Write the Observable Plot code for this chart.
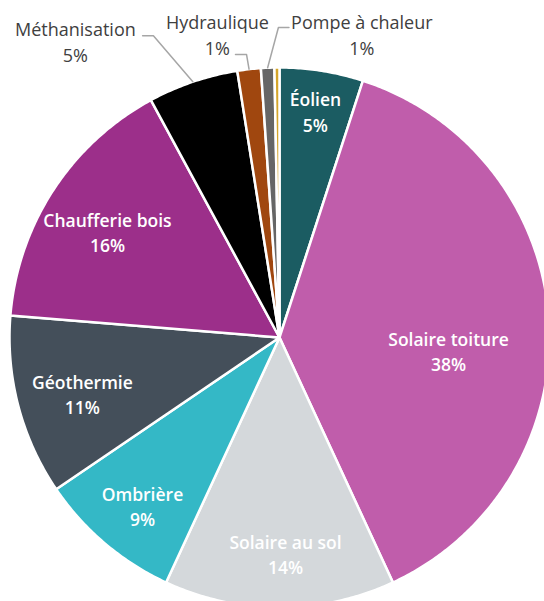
<!DOCTYPE html>
<html><head><meta charset="utf-8">
<script src="https://cdn.jsdelivr.net/npm/d3@7"></script>
<script src="https://cdn.jsdelivr.net/npm/@observablehq/plot@0.6"></script>
<style>body{margin:0;background:#fff;} svg{display:block;}</style>
</head><body><div id="chart"></div>
<script>
// ---- data (shares in %, clockwise from 12 o'clock) ----
const categories = ["Éolien","Solaire toiture","Solaire au sol","Ombrière","Géothermie","Chaufferie bois","Méthanisation","Hydraulique","Pompe à chaleur","Autre"];
const shares = [5.0, 38.1, 13.8, 8.6, 10.8, 15.8, 5.4, 1.4, 0.8, 0.3];
const colors = ["#1b5c62","#c05dab","#d4d8db","#34b8c6","#444f5a","#9c2f8a","#000000","#a0470f","#666666","#d4a52a"];
const insideLabels = ["Éolien","Solaire toiture","Solaire au sol","Ombrière","Géothermie","Chaufferie bois"];
const outsideLabels = ["Méthanisation","Hydraulique","Pompe à chaleur"];

// ---- layout (not data) ----
const W = 544, H = 601, CX = 279, CY = 337, R = 270;
// inside label placement: [angle (deg, clockwise from north), radius fraction]
const insideAt = {
  "Éolien": [9, 0.85], "Solaire toiture": [94.4, 0.628], "Solaire au sol": [178.4, 0.80],
  "Ombrière": [219.2, 0.803], "Géothermie": [254.1, 0.759], "Chaufferie bois": [301.6, 0.748]
};
// outside labels: text block centre, leader elbow and end (unit coordinates)
const outsideAt = {
  "Méthanisation": {tx: -0.756, ty: 1.100, ex: -0.467, ey: 1.118, fx: -0.507, fy: 1.118},
  "Hydraulique": {tx: -0.230, ty: 1.126, ex: -0.122, ey: 1.048, fx: -0.163, fy: 1.048},
  "Pompe à chaleur": {tx: 0.305, ty: 1.126, ex: -0.004, ey: 1.148, fx: 0.035, fy: 1.148}
};

const total = d3.sum(shares);
let acc = 0;
const slices = categories.map((name, i) => {
  const a0 = acc / total * 360; acc += shares[i];
  const a1 = acc / total * 360;
  return {name, value: shares[i], a0, a1, mid: (a0 + a1) / 2};
});
const rad = a => a * Math.PI / 180;
const polar = (a, r) => ({x: Math.sin(rad(a)) * r, y: Math.cos(rad(a)) * r});

const pts = slices.flatMap(s => {
  const n = Math.max(2, Math.ceil((s.a1 - s.a0) / 0.5));
  const arc = d3.range(n + 1).map(k => ({name: s.name, ...polar(s.a0 + (s.a1 - s.a0) * k / n, 1)}));
  return [{name: s.name, x: 0, y: 0}, ...arc];
});

const pct = s => `${Math.round(s.value)}%`;
const inLab = slices.filter(s => insideLabels.includes(s.name)).map(s => {
  const [a, r] = insideAt[s.name];
  return {...polar(a, r), text: `${s.name}\n${pct(s)}`};
});
const outLab = slices.filter(s => outsideLabels.includes(s.name)).map(s => {
  const L = outsideAt[s.name];
  return {x: L.tx, y: L.ty, text: `${s.name}\n${pct(s)}`};
});
const leaders = slices.filter(s => outsideLabels.includes(s.name)).flatMap(s => {
  const L = outsideAt[s.name];
  const p = polar(s.mid, 1.0);
  return [{name: s.name, ...p}, {name: s.name, x: L.ex, y: L.ey}, {name: s.name, x: L.fx, y: L.fy}];
});

const chart = Plot.plot({
  width: W, height: H, margin: 0,
  x: {domain: [-CX / R, (W - CX) / R], axis: null},
  y: {domain: [-(H - CY) / R, CY / R], axis: null},
  color: {domain: categories, range: colors},
  style: {fontFamily: "'Open Sans', sans-serif", background: "white"},
  marks: [
    Plot.line(pts, {x: "x", y: "y", z: "name", fill: "name", stroke: "white", strokeWidth: 2.5,
      strokeLinejoin: "round", curve: "linear-closed"}),
    Plot.line(leaders, {x: "x", y: "y", z: "name", stroke: "#a6a6a6", strokeWidth: 1.5}),
    Plot.text(inLab, {x: "x", y: "y", text: "text", fill: "white", fontSize: 17.5, fontWeight: 600,
      lineHeight: 1.45, lineAnchor: "middle"}),
    Plot.text(outLab, {x: "x", y: "y", text: "text", fill: "#404040", fontSize: 18,
      lineHeight: 1.48, lineAnchor: "middle"})
  ]
});
document.getElementById("chart").append(chart);
</script>
</body></html>
